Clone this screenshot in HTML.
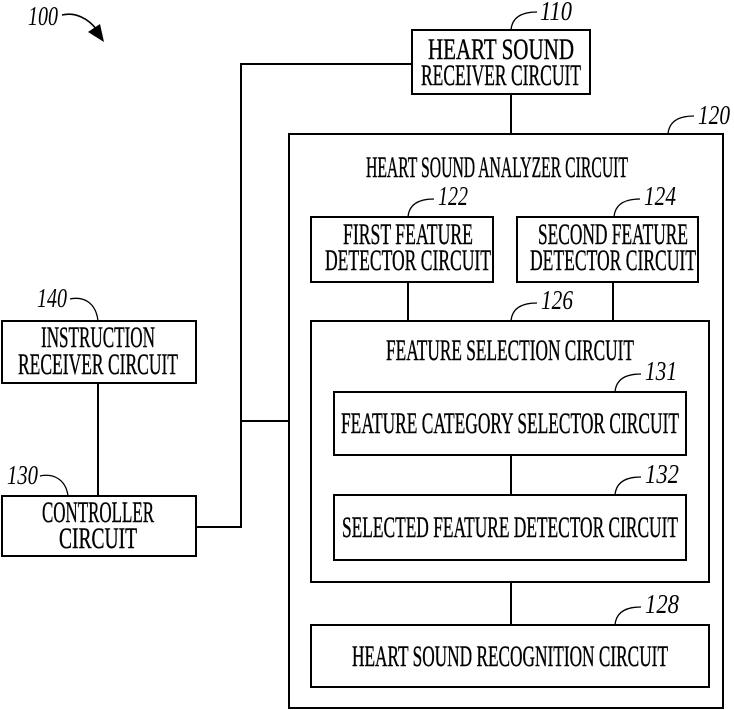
<!DOCTYPE html>
<html><head><style>
html,body{margin:0;padding:0;background:#fff;width:734px;height:710px;overflow:hidden}
text{font-family:"Liberation Serif",serif;fill:#000}
.t{font-size:30px;text-anchor:middle;stroke:#000;stroke-width:0.4}
.n{font-size:27px;font-style:italic}
</style></head><body>
<svg width="734" height="710" viewBox="0 0 734 710" xmlns="http://www.w3.org/2000/svg">
<g fill="none" stroke="#000" stroke-width="2">
<rect x="412" y="30" width="178" height="64"/>
<rect x="289" y="134" width="434" height="574"/>
<rect x="311" y="217" width="182" height="65"/>
<rect x="517" y="217" width="181" height="65"/>
<rect x="311" y="321" width="398" height="261"/>
<rect x="334" y="392" width="352" height="63"/>
<rect x="334" y="495" width="352" height="65"/>
<rect x="311" y="625" width="398" height="62"/>
<rect x="2" y="321" width="194" height="62"/>
<rect x="2" y="496" width="194" height="60"/>
<path d="M511 94V134M412 64H241V527H196M241 421H289M98 383V496M408 282V321M613 282V321M511 455V495M511 582V625"/>
<path d="M62 15C75 12 88 18 97 30" stroke-width="1.6"/>
<g stroke-width="1.3">
<path d="M511 30c1-12 10-18 26-18"/>
<path d="M668 134c1-12 10-18 26-18"/>
<path d="M408 217c1-12 10-18 26-18"/>
<path d="M614 217c1-12 10-18 26-18"/>
<path d="M511 321c1-12 10-18 26-18"/>
<path d="M615 392c1-12 10-18 26-18"/>
<path d="M615 495c1-12 10-18 26-18"/>
<path d="M615 625c1-12 10-18 26-18"/>
<path d="M70 299c14-3 26 4 28 22"/>
<path d="M40 476c14-3 26 4 28 20"/>
</g>
</g>
<path d="M88 32L104 42L100 24Z" fill="#000"/>
<text class="n" x="28" y="25" textLength="30" lengthAdjust="spacingAndGlyphs">100</text>
<text class="n" x="540" y="20" textLength="32" lengthAdjust="spacingAndGlyphs">110</text>
<text class="n" x="698" y="124" textLength="32" lengthAdjust="spacingAndGlyphs">120</text>
<text class="n" x="438" y="205" textLength="30" lengthAdjust="spacingAndGlyphs">122</text>
<text class="n" x="644" y="205" textLength="32" lengthAdjust="spacingAndGlyphs">124</text>
<text class="n" x="541" y="309" textLength="32" lengthAdjust="spacingAndGlyphs">126</text>
<text class="n" x="645" y="380" textLength="32" lengthAdjust="spacingAndGlyphs">131</text>
<text class="n" x="645" y="483" textLength="34" lengthAdjust="spacingAndGlyphs">132</text>
<text class="n" x="645" y="613" textLength="34" lengthAdjust="spacingAndGlyphs">128</text>
<text class="n" x="37" y="307" textLength="30" lengthAdjust="spacingAndGlyphs">140</text>
<text class="n" x="7" y="484" textLength="31" lengthAdjust="spacingAndGlyphs">130</text>
<text class="t" x="501" y="59" textLength="146" lengthAdjust="spacingAndGlyphs">HEART SOUND</text>
<text class="t" x="501" y="85" textLength="160" lengthAdjust="spacingAndGlyphs">RECEIVER CIRCUIT</text>
<text class="t" x="497" y="177" textLength="262" lengthAdjust="spacingAndGlyphs">HEART SOUND ANALYZER CIRCUIT</text>
<text class="t" x="408" y="244" textLength="130" lengthAdjust="spacingAndGlyphs">FIRST FEATURE</text>
<text class="t" x="408" y="270" textLength="166" lengthAdjust="spacingAndGlyphs">DETECTOR CIRCUIT</text>
<text class="t" x="613" y="244" textLength="150" lengthAdjust="spacingAndGlyphs">SECOND FEATURE</text>
<text class="t" x="613" y="270" textLength="166" lengthAdjust="spacingAndGlyphs">DETECTOR CIRCUIT</text>
<text class="t" x="510" y="360" textLength="248" lengthAdjust="spacingAndGlyphs">FEATURE SELECTION CIRCUIT</text>
<text class="t" x="510" y="433" textLength="338" lengthAdjust="spacingAndGlyphs">FEATURE CATEGORY SELECTOR CIRCUIT</text>
<text class="t" x="510" y="537" textLength="336" lengthAdjust="spacingAndGlyphs">SELECTED FEATURE DETECTOR CIRCUIT</text>
<text class="t" x="510" y="666" textLength="316" lengthAdjust="spacingAndGlyphs">HEART SOUND RECOGNITION CIRCUIT</text>
<text class="t" x="98" y="347" textLength="114" lengthAdjust="spacingAndGlyphs">INSTRUCTION</text>
<text class="t" x="98" y="374" textLength="160" lengthAdjust="spacingAndGlyphs">RECEIVER CIRCUIT</text>
<text class="t" x="98" y="522" textLength="112" lengthAdjust="spacingAndGlyphs">CONTROLLER</text>
<text class="t" x="98" y="548" textLength="78" lengthAdjust="spacingAndGlyphs">CIRCUIT</text>
</svg>
</body></html>
